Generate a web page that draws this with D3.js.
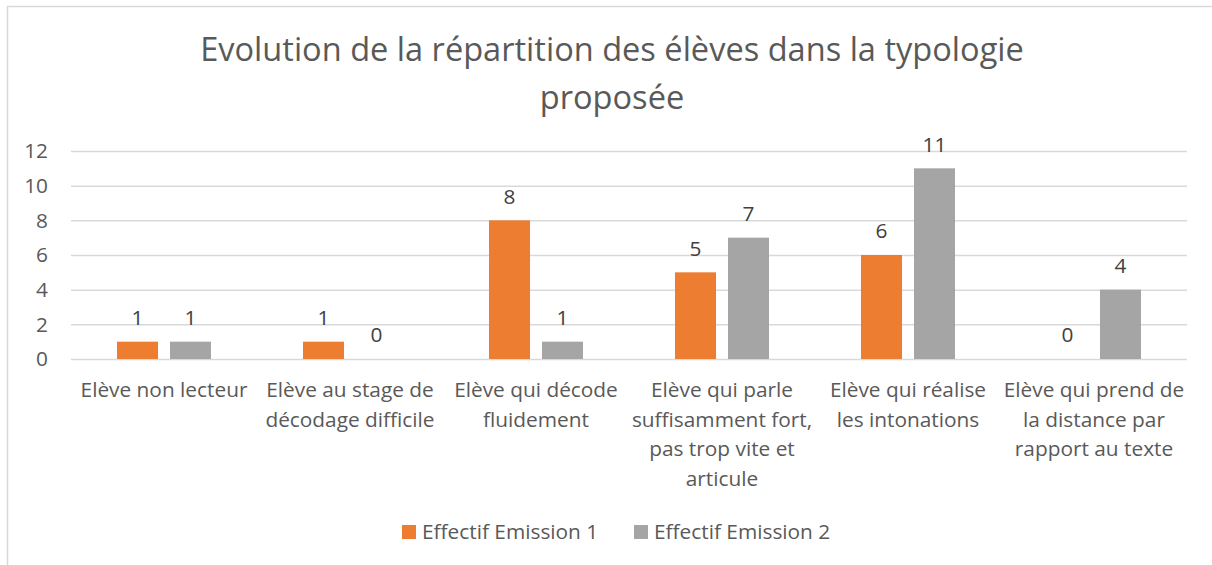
<!DOCTYPE html>
<html><head><meta charset="utf-8">
<script src="https://cdn.jsdelivr.net/npm/d3@7"></script>
<style>body{margin:0;background:#fff;}svg{display:block;font-family:"Open Sans",sans-serif;}</style>
</head><body>
<script>
const categories = [
  ["Elève non lecteur"],
  ["Elève au stage de","décodage difficile"],
  ["Elève qui décode","fluidement"],
  ["Elève qui parle","suffisamment fort,","pas trop vite et","articule"],
  ["Elève qui réalise","les intonations"],
  ["Elève qui prend de","la distance par","rapport au texte"]
];
const seriesNames = ["Effectif Emission 1","Effectif Emission 2"];
const emission1 = [1,1,8,5,6,0];
const emission2 = [1,0,1,7,11,4];
const yTicks = [0,2,4,6,8,10,12];
const colors = ["#ED7D31","#A5A5A5"];

const W=1212,H=565;
const svg=d3.select("body").append("svg").attr("width",W).attr("height",H);
svg.append("rect").attr("x",7.5).attr("y",6.5).attr("width",1240).attr("height",600).attr("fill","#fff").attr("stroke","#d9d9d9").attr("stroke-width",1.5);

// fit font sizes to the reference text widths
function fitSize(str,target){
  const t=svg.append("text").style("font-size","100px").text(str);
  const w=t.node().getComputedTextLength(); t.remove();
  return 100*target/w;
}
const fs=fitSize("Elève non lecteur",167);
const tfs=fitSize("Evolution de la répartition des élèves dans la typologie",824);

const pLeft=71,pRight=1187,pTop=151,pBottom=359;
const groupW=94;
const x=d3.scaleBand().domain(d3.range(categories.length)).range([pLeft,pRight]);
const x1=d3.scaleBand().domain([0,1]).range([0,groupW]).paddingInner(0.226);
const y=d3.scaleLinear().domain([0,12]).range([pBottom,pTop]);

// title
const title=svg.append("text").attr("text-anchor","middle").attr("fill","#595959").style("font-size",tfs+"px");
title.append("tspan").attr("x",612).attr("y",50).attr("dy","0.35em").text("Evolution de la répartition des élèves dans la typologie");
title.append("tspan").attr("x",612).attr("y",98).attr("dy","0.35em").text("proposée");

// grid
const yAxis=d3.axisLeft(y).tickValues(yTicks).tickSize(-(pRight-pLeft)).tickPadding(23);
const ga=svg.append("g").attr("transform",`translate(${pLeft},0)`).call(yAxis);
ga.select(".domain").remove();
ga.selectAll(".tick line").attr("stroke","#d9d9d9").attr("stroke-width",1.5);
ga.selectAll(".tick text").attr("fill","#595959").style("font-size",fs+"px").style("font-family","Open Sans");

const data=[emission1,emission2];
const groups=svg.append("g");
data.forEach((vals,s)=>{
  groups.selectAll(null).data(vals).enter().append("rect")
    .attr("x",(d,i)=>x(i)+(x.bandwidth()-groupW)/2+x1(s))
    .attr("width",x1.bandwidth())
    .attr("y",d=>y(d)).attr("height",d=>pBottom-y(d))
    .attr("fill",colors[s]);
  groups.selectAll(null).data(vals).enter().append("text")
    .attr("x",(d,i)=>x(i)+(x.bandwidth()-groupW)/2+x1(s)+x1.bandwidth()/2)
    .attr("y",d=>y(d)-24).attr("dy","0.35em")
    .attr("text-anchor","middle").attr("fill","#404040").style("font-size",fs+"px")
    .text(d=>d);
});

// x labels
const xl=svg.append("g");
categories.forEach((lines,i)=>{
  const t=xl.append("text").attr("text-anchor","middle").attr("fill","#595959").style("font-size",fs+"px");
  lines.forEach((ln,j)=>t.append("tspan").attr("x",x(i)+x.bandwidth()/2).attr("y",390+j*29.5).attr("dy","0.35em").text(ln));
});

// legend
const legX=[402,634];
seriesNames.forEach((n,s)=>{
  svg.append("rect").attr("x",legX[s]).attr("y",525).attr("width",14).attr("height",14).attr("fill",colors[s]);
  svg.append("text").attr("x",legX[s]+20).attr("y",532).attr("dy","0.35em").attr("fill","#595959").style("font-size",fs+"px").text(n);
});
</script>
</body></html>
